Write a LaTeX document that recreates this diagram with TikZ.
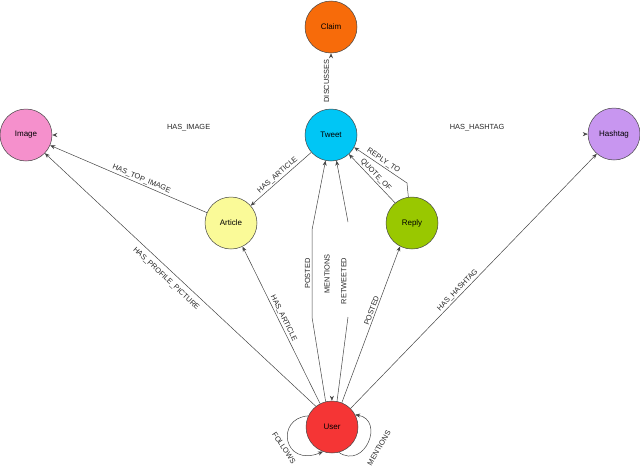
\documentclass[tikz,border=0pt]{standalone}
\usepackage{fontspec}
\setmainfont{Liberation Sans}
\usetikzlibrary{arrows.meta}
\definecolor{cClaim}{HTML}{F76B0A}
\definecolor{cTweet}{HTML}{00C6F5}
\definecolor{cImage}{HTML}{F590CC}
\definecolor{cArticle}{HTML}{FAFA98}
\definecolor{cReply}{HTML}{99C800}
\definecolor{cHash}{HTML}{C896F0}
\definecolor{cUser}{HTML}{F53535}
\definecolor{cLine}{HTML}{444444}
\begin{document}
\begin{tikzpicture}[x=1pt,y=-1pt,
  ent/.style={circle, draw=cLine, line width=0.5pt, minimum size=52pt, inner sep=0pt,
    font=\fontsize{8}{9}\selectfont},
  rel/.style={draw=cLine, line width=0.5pt, -{Stealth[length=5pt,width=4pt]}},
  tiponly/.style={dash pattern=on 0pt off 5000pt},
  lbl/.style={font=\fontsize{7.4}{8}\selectfont, inner sep=1.5pt, text=black!85}
]
\useasboundingbox (0,0) rectangle (640,466);

% entities
\node[ent, fill=cClaim]   (claim)   at (331,27)  {Claim};
\node[ent, fill=cTweet]   (tweet)   at (331,135) {Tweet};
\node[ent, fill=cImage]   (image)   at (26,135)  {Image};
\node[ent, fill=cHash]    (hashtag) at (614,134) {Hashtag};
\node[ent, fill=cArticle] (article) at (231,223) {Article};
\node[ent, fill=cReply]   (reply)   at (412,223) {Reply};
\node[ent, fill=cUser]    (user)    at (332,427) {User};

% helper points
\coordinate (q1) at (407,183);
\coordinate (p1) at (312,317);
\coordinate (p2) at (312,230);
\coordinate (r1) at (348,317);
\coordinate (r2) at (348,222);

% Tweet relations
\draw[rel, tiponly] (tweet) -- node[lbl, rotate=90, anchor=south] {DISCUSSES} (claim);
\draw[rel, tiponly] (tweet) -- node[lbl, pos=0.46, above, yshift=2pt] {HAS\_IMAGE} (image);
\draw[rel, tiponly] (tweet) -- node[lbl, pos=0.52, above, yshift=2pt] {HAS\_HASHTAG} (hashtag);
\draw[rel] (tweet) -- node[lbl, sloped, above] {HAS\_ARTICLE} (article);
\draw[rel] (article) -- node[lbl, sloped, above, pos=0.43] {HAS\_TOP\_IMAGE} (image);

% Reply relations
\draw[rel] (reply.98) -- (q1) -- node[lbl, sloped, above] {REPLY\_TO} (tweet.-28);
\draw[rel] (reply.130) -- node[lbl, sloped, above] {QUOTE\_OF} (tweet.-47);

% User relations
\draw[rel] (user.104) -- (p1) -- node[lbl, rotate=90, anchor=south] {POSTED} (p2) -- (tweet.-102);
\draw[rel, tiponly] (tweet) -- node[lbl, rotate=90, anchor=south, pos=0.47] {MENTIONS} (user);
\draw[rel] (user.79) -- (r1) (r2) -- (tweet.-78);
\path (r1) -- node[lbl, rotate=90, anchor=south, pos=0.38] {RETWEETED} (r2);
\draw[rel] (user.68) -- node[lbl, sloped, above, pos=0.58] {POSTED} (reply.-117);
\draw[rel] (user.117) -- node[lbl, sloped, above, pos=0.53] {HAS\_ARTICLE} (article.-64);
\draw[rel] (user.128) -- node[lbl, sloped, below=4pt, pos=0.53] {HAS\_PROFILE\_PICTURE} (image.-44);
\draw[rel] (user.45) -- node[lbl, sloped, above, pos=0.45] {HAS\_HASHTAG} (hashtag.-131);

% self loops
\draw[rel] (user.155) .. controls (275,418) and (283,468) .. (user.250)
  node[lbl, rotate=-56] at (284,448) {FOLLOWS};
\draw[rel] (user.-75) .. controls (365,470) and (385,420) .. (user.28)
  node[lbl, rotate=60] at (379,448) {MENTIONS};
\end{tikzpicture}
\end{document}
